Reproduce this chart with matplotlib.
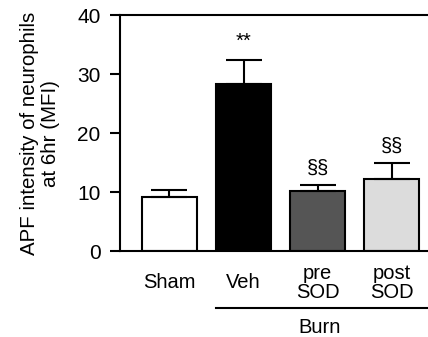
import matplotlib.pyplot as plt

plt.rcParams['font.family'] = ['Liberation Sans', 'DejaVu Sans']

groups = ["Sham", "Veh", "pre\nSOD", "post\nSOD"]
means = [9.2, 28.3, 10.2, 12.3]
sem = [1.1, 4.1, 1.0, 2.6]
colors = ["white", "black", "#555555", "#dcdcdc"]
marks = ["", "**", "§§", "§§"]

fig = plt.figure(figsize=(4.28, 3.37), dpi=100)
ax = fig.add_axes([0.280, 0.255, 0.720, 0.700])

x = list(range(len(groups)))
ax.bar(x, means, width=0.75, color=colors, edgecolor="black", linewidth=1.5,
       yerr=[[0] * len(sem), sem], capsize=13,
       error_kw=dict(elinewidth=1.5, capthick=1.5, ecolor="black"), zorder=2)

# significance marks above the error bars
for xi, m, s, lab in zip(x, means, sem, marks):
    if lab:
        off = 3.2 if lab == "**" else 2.9
        ax.text(xi, m + s + off, lab, ha="center", va="center", fontsize=14.5)

ax.set_xlim(-0.67, 3.49)
ax.set_ylim(0, 40)
ax.set_yticks([0, 10, 20, 30, 40])
ax.set_xticks([])
ax.tick_params(axis="y", direction="out", length=7, width=1.5, labelsize=15, pad=7)
for sp in ["left", "bottom", "top"]:
    ax.spines[sp].set_linewidth(1.5)
ax.spines["right"].set_visible(False)

ax.set_ylabel("APF intensity of neurophils\nat 6hr (MFI)", fontsize=14.8, labelpad=12,
              linespacing=1.15)

# group labels under the bars
for xi, g in zip(x, groups):
    ax.text(xi, -5.4, g, ha="center", va="center", fontsize=14.5, linespacing=0.95,
            clip_on=False)

ax.plot([0.63, 3.6], [-9.7, -9.7], color="black", linewidth=1.5, clip_on=False)
ax.text(2.03, -13.0, "Burn", ha="center", va="center", fontsize=14.5, clip_on=False)

fig.savefig("out.png", dpi=100)
